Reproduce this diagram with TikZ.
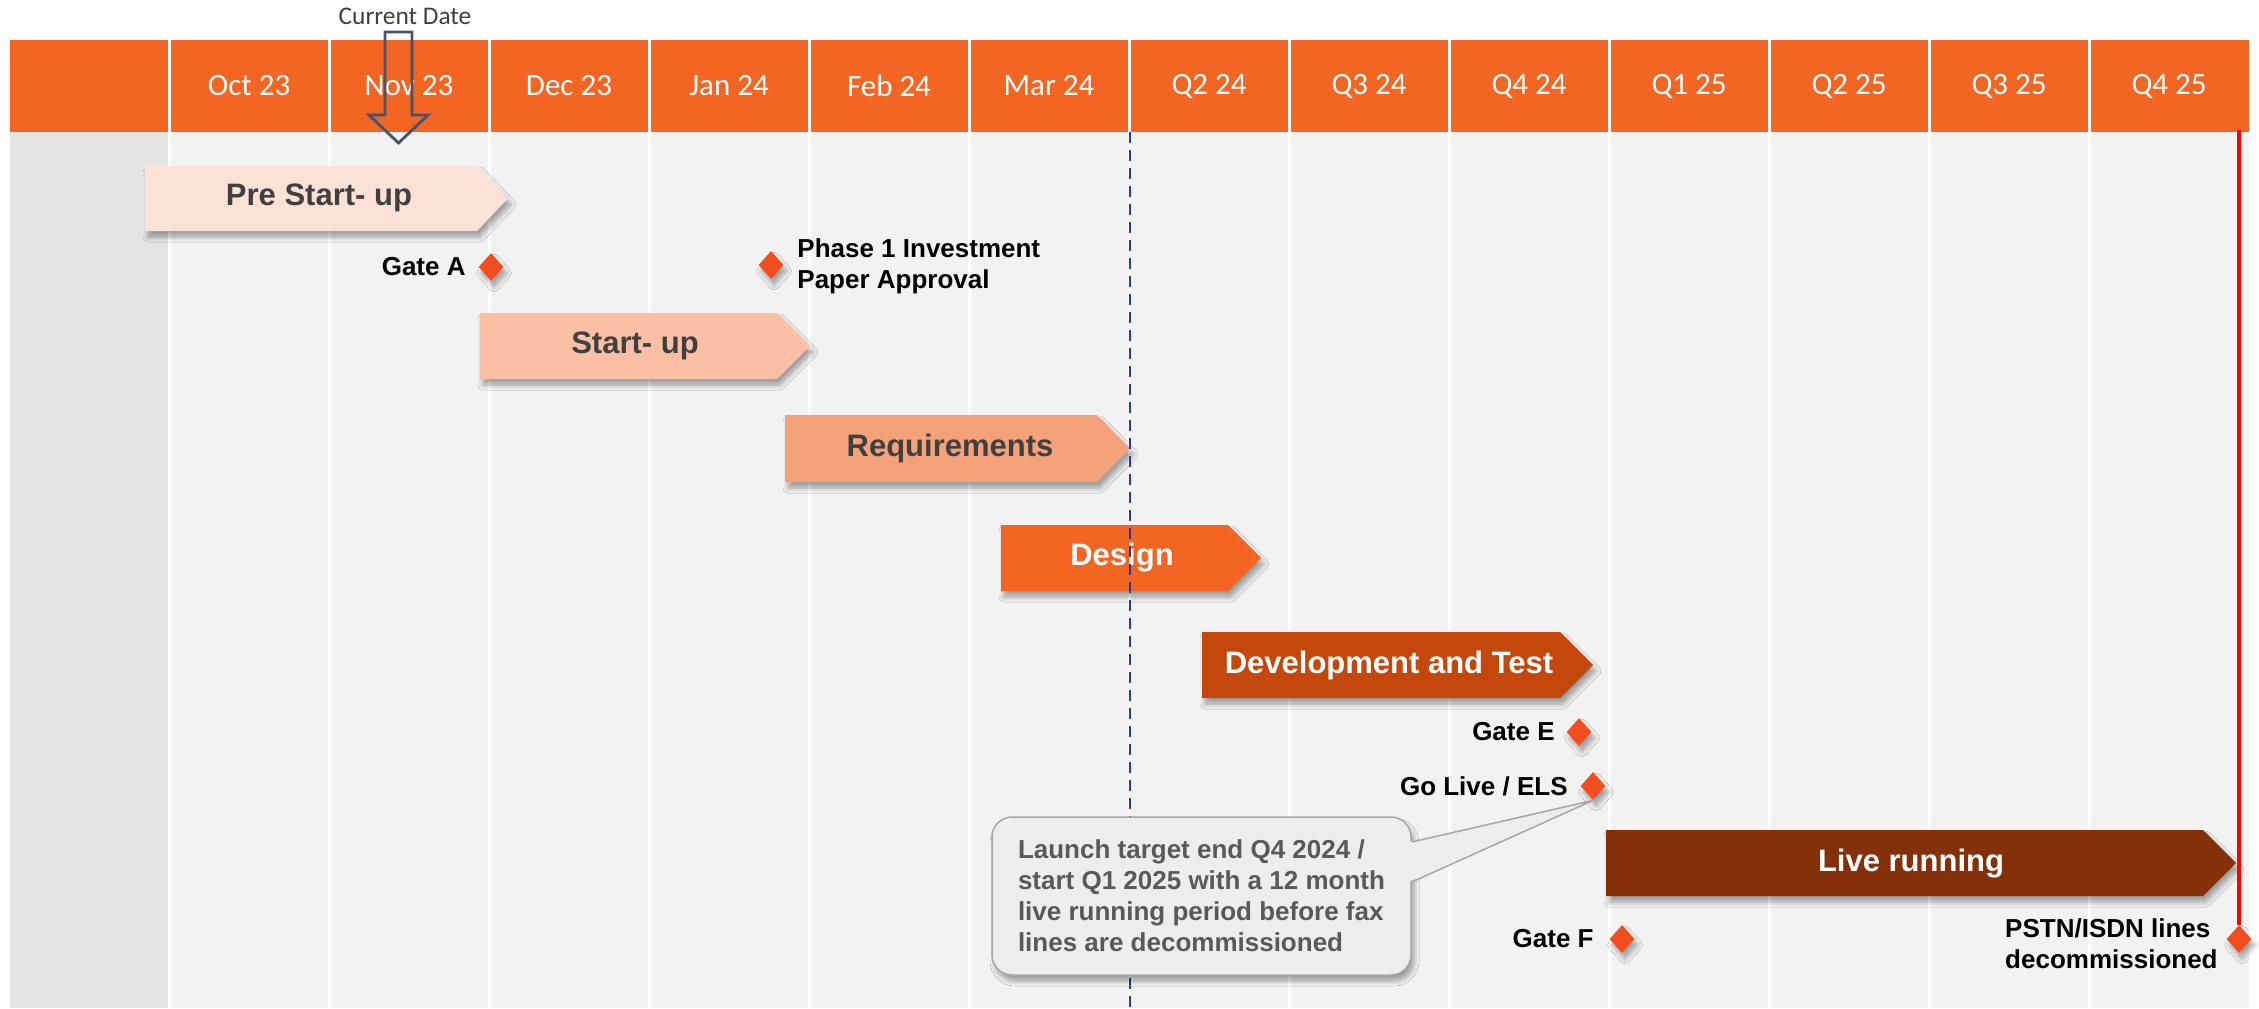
\documentclass[tikz,border=0pt]{standalone}
\usepackage{fontspec}
\setmainfont{Liberation Sans}
\newfontfamily\calib{Carlito}
\usetikzlibrary{shapes.geometric,shadows,shadows.blur,calc}
\definecolor{hdr}{HTML}{F26522}
\definecolor{bodybg}{HTML}{F2F2F2}
\definecolor{leftc}{HTML}{E4E4E4}
\definecolor{prec}{HTML}{FCE1D6}
\definecolor{startc}{HTML}{FBBFA6}
\definecolor{reqc}{HTML}{F4A27A}
\definecolor{desc}{HTML}{F26522}
\definecolor{devc}{HTML}{C4470C}
\definecolor{livec}{HTML}{843009}
\definecolor{gatec}{HTML}{F24E1D}
\definecolor{darktext}{HTML}{404040}
\definecolor{caltext}{HTML}{595959}
\definecolor{calfill}{HTML}{EDEDED}
\definecolor{calborder}{HTML}{A6A6A6}
\definecolor{dashblue}{HTML}{2B3A9A}
\definecolor{cdarrow}{HTML}{44546A}
\begin{document}
\begin{tikzpicture}[x=0.5pt,y=-0.5pt,
  sh/.style={blur shadow={shadow xshift=1.5pt,shadow yshift=-3pt,shadow opacity=35,shadow blur steps=6,shadow blur radius=2.5pt}},
  hdrlbl/.style={text=white,font=\calib\fontsize{15.5}{18}\selectfont,inner sep=0},
  barlbl/.style={font=\bfseries\fontsize{15.5}{18}\selectfont,inner sep=0},
  gate/.style={diamond,fill=gatec,minimum width=12.5pt,minimum height=14pt,inner sep=0,sh},
  gatelbl/.style={font=\bfseries\fontsize{13}{15.5}\selectfont,inner sep=0,align=left},
  callout/.style={rectangle,rounded corners=10pt,fill=calfill,draw=calborder,line width=0.75pt,
    minimum width=209.5pt,minimum height=79pt,align=left,text=caltext,
    font=\bfseries\fontsize{13}{15.5}\selectfont,sh}]
\useasboundingbox (0,0) rectangle (2259,1008);
% background
\fill[bodybg] (10,132) rectangle (2249,1008);
\fill[leftc] (10,132) rectangle (169,1008);
\fill[hdr] (10,40) rectangle (2249,132);
\foreach \k in {0,...,12} \draw[white,line width=1.5pt] (169+160*\k,40) -- (169+160*\k,1008);
% header labels
\foreach \lab [count=\i from 0] in {Oct 23,Nov 23,Dec 23,Jan 24,Feb 24,Mar 24,Q2 24,Q3 24,Q4 24,Q1 25,Q2 25,Q3 25,Q4 25}
  \node[hdrlbl] (h\i) at (249+160*\i,86) {\lab};
% current date
\node[text=darktext,font=\calib\fontsize{12.7}{15}\selectfont,inner sep=0] (cd) at (405,16) {Current Date};
\draw[cdarrow,line width=1.4pt,line join=miter] (385,32) -- (412,32) -- (412,115) -- (428,115) -- (398.5,143) -- (369,115) -- (385,115) -- cycle;
% bars
\path[sh,fill=prec] (145,166) -- (477,166) -- (508,198.5) -- (477,231) -- (145,231) -- cycle;
\node[barlbl,text=darktext] (pre) at (319,198) {Pre Start- up};
\path[sh,fill=startc] (480,313) -- (777,313) -- (810,346) -- (777,379) -- (480,379) -- cycle;
\node[barlbl,text=darktext] (start) at (635,346) {Start- up};
\path[sh,fill=reqc] (785,415) -- (1097,415) -- (1130,448.5) -- (1097,482) -- (785,482) -- cycle;
\node[barlbl,text=darktext] (req) at (950,448) {Requirements};
\path[sh,fill=desc] (1001,525) -- (1228,525) -- (1261,558) -- (1228,591) -- (1001,591) -- cycle;
\node[barlbl,text=white] (des) at (1122,558) {Design};
\path[sh,fill=devc] (1202,632) -- (1560,632) -- (1593,665) -- (1560,698) -- (1202,698) -- cycle;
\node[barlbl,text=white] (dev) at (1389,665) {Development and Test};
\path[sh,fill=livec] (1606,830) -- (2203,830) -- (2236,863) -- (2203,896) -- (1606,896) -- cycle;
\node[barlbl,text=white] (live) at (1911,864) {Live running};
% gates
\node[gate] (gA) at (491,267) {};
\node[gatelbl,anchor=east] (gAl) at (466,267) {Gate A};
\node[gate] (gP) at (771,265) {};
\node[gatelbl,anchor=west] (gPl) at (797,266) {Phase 1 Investment\\Paper Approval};
\node[gate] (gE) at (1579,732) {};
\node[gatelbl,anchor=east] (gEl) at (1555,732) {Gate E};
\node[gate] (gGL) at (1593,786) {};
\node[gatelbl,anchor=east] (gGLl) at (1568,786) {Go Live / ELS};
\node[gate] (gF) at (1622,939) {};
\node[gatelbl,anchor=east] (gFl) at (1594,939) {Gate F};
\node[gate] (gPS) at (2239,939) {};
\node[gatelbl,anchor=east] (gPSl) at (2218,944) {PSTN/ISDN lines\\decommissioned};
% current-date dashed line
\draw[dashblue,line width=0.9pt,dash pattern=on 5.5pt off 3.5pt] (1130,132) -- (1130,1008);
% red end line
\draw[red,line width=2pt] (gPS.north |- 0,130) -- (gPS.north);
% callout
\node[callout] (co) at (1201.5,896) {Launch target end Q4 2024 /\\start Q1 2025 with a 12 month\\live running period before fax\\lines are decommissioned};
\fill[calfill] ($(co.east)+(-4,-54)$) -- (gGL.south) -- ($(co.east)+(-4,-14)$) -- cycle;
\draw[calborder,line width=0.75pt] ($(co.east)+(0,-54)$) -- (gGL.south) -- ($(co.east)+(0,-14)$);
\end{tikzpicture}
\end{document}
